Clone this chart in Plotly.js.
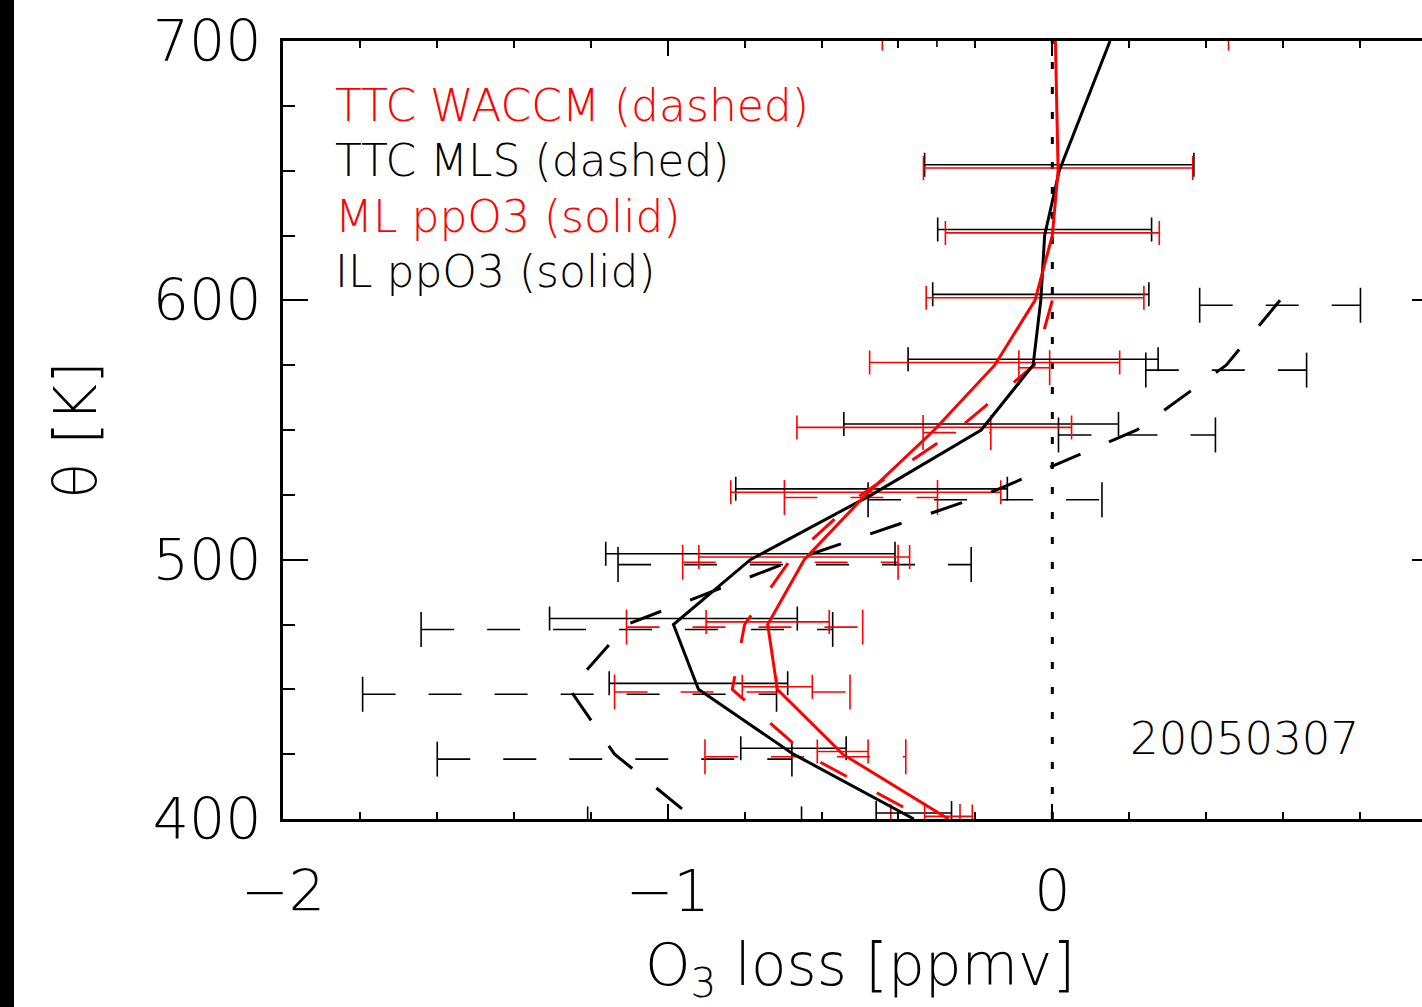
<!DOCTYPE html>
<html><head><meta charset="utf-8">
<script src="https://cdn.plot.ly/plotly-3.0.1.min.js"></script>
<style>
html,body{margin:0;padding:0;overflow:hidden;background:#fff;width:1422px;height:1007px;}
#chart{position:absolute;left:0;top:0;width:1460px;height:1007px;}
#band{position:absolute;left:0;top:0;width:14px;height:1007px;background:#000;z-index:10;}
</style></head><body>
<div id="chart"></div><div id="band"></div>
<script>
// ---- data ----
const levelsPP = [400,425,450,475,500,525,550,575,600,625,650,700];
const ilPP  = [-0.36,-0.673,-0.92,-0.985,-0.785,-0.47,-0.185,-0.05,-0.03,-0.02,0.018,0.15];
const ilErr = [0.098,0.137,0.232,0.322,0.376,0.353,0.357,0.325,0.281,0.278,0.35,0.45];
const mlPP  = [-0.27,-0.545,-0.715,-0.74,-0.645,-0.485,-0.307,-0.15,-0.045,0.0,0.015,0.008];
const mlErr = [0.062,0.066,0.091,0.16,0.274,0.351,0.357,0.325,0.283,0.278,0.35,0.45];

const levelsTTC = [400,425,450,475,500,525,550,575,600];
const mlsTTC   = [-0.93,-1.138,-1.255,-1.106,-0.67,-0.175,0.22,0.452,0.592];
const mlsErr   = [0.278,0.461,0.538,0.535,0.459,0.304,0.204,0.209,0.209];
const waccmTTC = [-0.33,-0.642,-0.832,-0.80,-0.681,-0.4975,-0.248,-0.047,0.0];
const waccmErr = [0.09,0.261,0.306,0.307,0.28,0.199,0.088,0.04,null];

const xTickVals = [-2,-1,0];
const xTickText = ['\u22122','\u22121','0'];
const yTickVals = [400,500,600,700];
const yTickText = ['400','500','600','700'];

const legendTexts  = ['TTC WACCM (dashed)','TTC MLS (dashed)','ML ppO3 (solid)','IL ppO3 (solid)'];
const legendColors = ['#ff0000','#000000','#ff0000','#000000'];
const dateLabel = '20050307';

// ---- styles ----
const RED = '#ff0000', BLK = '#000000';
const FONT = 'DejaVu Sans';
const W = 300;

function solidBars(xs, ys, errs, dy, color){
  return {type:'scatter', mode:'markers', x: xs, y: ys.map(v=>v+dy),
    marker:{size:1, color:'rgba(0,0,0,0)'},
    error_x:{type:'data', array: errs, symmetric:true, visible:true, color: color, thickness:1.6, width:12},
    hoverinfo:'skip', showlegend:false};
}
function dashedBars(xs, ys, errs, dy, color){
  const x=[], y=[];
  xs.forEach((v,i)=>{ if(errs[i]==null) return;
    x.push(v-errs[i], v+errs[i], null); y.push(ys[i]+dy, ys[i]+dy, null); });
  return {type:'scatter', mode:'lines+markers', x:x, y:y, connectgaps:false,
    line:{color:color, width:1.6, dash:'33px,33px'},
    marker:{symbol:'line-ns', size:25, color:color, line:{width:1.6, color:color}},
    hoverinfo:'skip', showlegend:false};
}
const rev = a => a.slice().reverse();

const traces = [
  dashedBars(mlsTTC, levelsTTC, mlsErr, -1.9, BLK),
  dashedBars(waccmTTC, levelsTTC, waccmErr, -1.0, RED),
  solidBars(ilPP, levelsPP, ilErr, 2.3, BLK),
  solidBars(mlPP, levelsPP, mlErr, 1.0, RED),
  {type:'scatter', mode:'lines', x: rev(mlsTTC), y: rev(levelsTTC), line:{color:BLK, width:3, dash:'33px,31px'}, showlegend:false},
  {type:'scatter', mode:'lines', x: rev(waccmTTC), y: rev(levelsTTC), line:{color:RED, width:3, dash:'30px,34px'}, showlegend:false},
  {type:'scatter', mode:'lines', x: ilPP, y: levelsPP, line:{color:BLK, width:3}, showlegend:false},
  {type:'scatter', mode:'lines', x: mlPP, y: levelsPP, line:{color:RED, width:3}, showlegend:false}
];

const legendY = [0.917,0.846,0.775,0.704];
const annotations = legendTexts.map((t,i)=>({
  text:t, xref:'paper', yref:'paper', x:0.0433, y:legendY[i], xanchor:'left', yanchor:'middle',
  showarrow:false, font:{family:FONT, size:44, weight:W, color:legendColors[i]}
}));
annotations.push({text:dateLabel, xref:'paper', yref:'paper', x:0.8336, y:0.104,
  xanchor:'center', yanchor:'middle', showarrow:false, font:{family:FONT, size:45, weight:W, color:BLK}});

const axisCommon = {showgrid:false, zeroline:false, showline:true, linewidth:3, linecolor:BLK,
  mirror:'ticks', ticks:'inside', tickwidth:2, tickcolor:BLK, tickmode:'array',
  tickfont:{family:FONT, size:57, weight:W, color:BLK}};

const layout = {
  width:1460, height:1007,
  margin:{l:283, r:23, t:41, b:188, pad:0},
  paper_bgcolor:'#ffffff', plot_bgcolor:'#ffffff',
  font:{family:FONT, color:BLK, weight:W},
  showlegend:false,
  xaxis: Object.assign({}, axisCommon, {
    range:[-2,1], tickvals:xTickVals, ticktext:xTickText, ticklen:15, ticklabelstandoff:21,
    minor:{tickmode:'linear', tick0:0, dtick:0.2, ticks:'inside', ticklen:7, tickwidth:2, tickcolor:BLK, showgrid:false},
    title:{text:'O<sub>3</sub> loss [ppmv]', font:{family:FONT, size:58, weight:W, color:BLK}, standoff:22}
  }),
  yaxis: Object.assign({}, axisCommon, {
    range:[400,700], tickvals:yTickVals, ticktext:yTickText, ticklen:25, ticklabelstandoff:7,
    minor:{tickmode:'linear', tick0:400, dtick:25, ticks:'inside', ticklen:12, tickwidth:2, tickcolor:BLK, showgrid:false},
    title:{text:'θ [K]', font:{family:FONT, size:58, weight:W, color:BLK}, standoff:38}
  }),
  shapes:[{type:'line', xref:'x', yref:'paper', x0:0, x1:0, y0:0, y1:1, layer:'below',
    line:{color:BLK, width:3, dash:'7px,18px'}}],
  annotations: annotations
};

Plotly.newPlot('chart', traces, layout, {displayModeBar:false, staticPlot:true});
</script>
</body></html>
